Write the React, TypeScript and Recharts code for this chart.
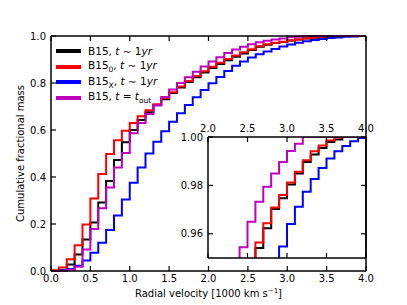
import { LineChart, Line, XAxis, YAxis, Legend } from 'recharts';

// bin edges [1000 km/s]
const VELOCITY = [
  0.0, 0.1, 0.2, 0.3, 0.4, 0.5, 0.6, 0.7, 0.8, 0.9,
  1.0, 1.1, 1.2, 1.3, 1.4, 1.5, 1.6, 1.7, 1.8, 1.9,
  2.0, 2.1, 2.2, 2.3, 2.4, 2.5, 2.6, 2.7, 2.8, 2.9,
  3.0, 3.1, 3.2, 3.3, 3.4, 3.5, 3.6, 3.7, 3.8, 3.9, 4.0,
];

// cumulative fractional mass, level of each bin starting at the edge above
const B15 = [
  0.0, 0.004, 0.028, 0.07, 0.134, 0.206, 0.291, 0.383, 0.472, 0.548,
  0.6, 0.643, 0.676, 0.705, 0.731, 0.757, 0.781, 0.804, 0.825, 0.845,
  0.864, 0.881, 0.897, 0.912, 0.926, 0.94, 0.9541, 0.9623, 0.9702, 0.9747,
  0.9804, 0.9849, 0.9897, 0.9928, 0.9955, 0.9979, 0.999, 1.0, 1.0, 1.0, 1.0,
];
const B15_0 = [
  0.003, 0.015, 0.05, 0.11, 0.198, 0.308, 0.413, 0.498, 0.556, 0.597,
  0.63, 0.658, 0.684, 0.71, 0.736, 0.761, 0.785, 0.808, 0.83, 0.85,
  0.869, 0.886, 0.902, 0.917, 0.931, 0.944, 0.9564, 0.9644, 0.9709, 0.976,
  0.9812, 0.9856, 0.9904, 0.9941, 0.9965, 0.9986, 0.9998, 1.0, 1.0, 1.0, 1.0,
];
const B15_X = [
  0.0, 0.002, 0.008, 0.022, 0.045, 0.078, 0.12, 0.175, 0.236, 0.304,
  0.376, 0.44, 0.5, 0.55, 0.595, 0.635, 0.671, 0.706, 0.739, 0.77,
  0.799, 0.826, 0.851, 0.873, 0.892, 0.908, 0.922, 0.934, 0.945, 0.9548,
  0.964, 0.9712, 0.9774, 0.9826, 0.9872, 0.9911, 0.9941, 0.9963, 0.9982, 0.9996, 1.0,
];
const B15_OUT = [
  0.0, 0.001, 0.006, 0.018, 0.092, 0.179, 0.267, 0.355, 0.44, 0.502,
  0.586, 0.63, 0.668, 0.705, 0.74, 0.772, 0.8, 0.825, 0.848, 0.87,
  0.891, 0.91, 0.928, 0.943, 0.9544, 0.965, 0.9732, 0.9794, 0.9849, 0.9897,
  0.9942, 0.9972, 1.0, 1.0, 1.0, 1.0, 1.0, 1.0, 1.0, 1.0, 1.0,
];

const X_TICKS = [0, 0.5, 1, 1.5, 2, 2.5, 3, 3.5, 4];
const Y_TICKS = [0, 0.2, 0.4, 0.6, 0.8, 1];
const INSET_X_TICKS = [2, 2.5, 3, 3.5, 4];
const INSET_Y_TICKS = [0.96, 0.98, 1.0];

const rows = VELOCITY.map((v, i) => ({
  v,
  b15: B15[i],
  b15_0: B15_0[i],
  b15_x: B15_X[i],
  b15_out: B15_OUT[i],
}));

const FONT = '"DejaVu Sans", sans-serif';
const TL = 5;
const axisLine = { stroke: '#000', strokeWidth: 1.5 };

const SERIES = [
  { key: 'b15', color: '#000000', label: <>B15, <i>t</i> ∼ 1<i>yr</i></> },
  { key: 'b15_0', color: '#ff0000', label: <>B15<sub style={{ fontSize: 7.5 }}>0</sub>, <i>t</i> ∼ 1<i>yr</i></> },
  { key: 'b15_x', color: '#0000ff', label: <>B15<sub style={{ fontSize: 7.5 }}>X</sub>, <i>t</i> ∼ 1<i>yr</i></> },
  { key: 'b15_out', color: '#bf00bf', label: <>B15, <i>t</i> = <i>t</i><sub style={{ fontSize: 7.5 }}>out</sub></> },
];

const bottomTick = (digits: number, showLabel: boolean) => (p: any) => (
  <g>
    <line x1={p.x} x2={p.x} y1={p.y} y2={p.y - TL} stroke="#000" strokeWidth={1.2} />
    {showLabel && (
      <text x={p.x} y={p.y + 11} textAnchor="middle" fontSize={10} fontFamily={FONT} fill="#000">
        {Number(p.payload.value).toFixed(digits)}
      </text>
    )}
  </g>
);

const topTick = (digits: number, showLabel: boolean) => (p: any) => (
  <g>
    <line x1={p.x} x2={p.x} y1={p.y} y2={p.y + TL} stroke="#000" strokeWidth={1.2} />
    {showLabel && (
      <text x={p.x} y={p.y - 5} textAnchor="middle" fontSize={10} fontFamily={FONT} fill="#000">
        {Number(p.payload.value).toFixed(digits)}
      </text>
    )}
  </g>
);

const leftTick = (digits: number) => (p: any) => (
  <g>
    <line x1={p.x} x2={p.x + TL} y1={p.y} y2={p.y} stroke="#000" strokeWidth={1.2} />
    <text x={p.x - 5} y={p.y + 3.6} textAnchor="end" fontSize={10} fontFamily={FONT} fill="#000">
      {Number(p.payload.value).toFixed(digits)}
    </text>
  </g>
);

const rightTick = (p: any) => (
  <line x1={p.x} x2={p.x - TL} y1={p.y} y2={p.y} stroke="#000" strokeWidth={1.2} />
);

const XLabel = ({ viewBox }: any) => (
  <text x={viewBox.x + viewBox.width / 2} y={viewBox.y + 26} textAnchor="middle" fontSize={10} fontFamily={FONT} fill="#000">
    Radial velocity [1000 km s<tspan dy={-4} fontSize={7}>−1</tspan><tspan dy={4}>]</tspan>
  </text>
);

const YLabel = ({ viewBox }: any) => {
  const cx = viewBox.x + 24;
  const cy = viewBox.y + viewBox.height / 2;
  return (
    <text x={cx} y={cy} transform={`rotate(-90 ${cx} ${cy})`} textAnchor="middle" fontSize={10} fontFamily={FONT} fill="#000">
      Cumulative fractional mass
    </text>
  );
};

const LegendBox = () => (
  <div style={{ fontFamily: FONT, fontSize: 10.5, color: '#000' }}>
    {SERIES.map((s) => (
      <div key={s.key} style={{ display: 'flex', alignItems: 'center', height: 15.7, whiteSpace: 'nowrap' }}>
        <span style={{ display: 'inline-block', width: 25, height: 4, background: s.color, marginRight: 7 }} />
        <span>{s.label}</span>
      </div>
    ))}
  </div>
);

export default function App() {
  const lines = SERIES.map((s) => (
    <Line
      key={s.key}
      xAxisId="b"
      yAxisId="l"
      dataKey={s.key}
      type="stepAfter"
      stroke={s.color}
      strokeWidth={2}
      dot={false}
      activeDot={false}
      isAnimationActive={false}
    />
  ));

  return (
    <div style={{ position: 'absolute', left: 0, top: 0, width: 407, height: 305, background: '#fff' }}>
      <LineChart width={407} height={305} data={rows} margin={{ top: 35, right: 40, bottom: 0, left: 0 }}>
        <XAxis xAxisId="b" dataKey="v" type="number" domain={[0, 4]} ticks={X_TICKS} interval={0}
          height={34} tickSize={0} tickMargin={0} tickLine={false} axisLine={axisLine}
          tick={bottomTick(1, true)} label={{ content: XLabel }} />
        <XAxis xAxisId="t" orientation="top" dataKey="v" type="number" domain={[0, 4]} ticks={X_TICKS} interval={0}
          height={1} tickSize={0} tickMargin={0} tickLine={false} axisLine={axisLine}
          tick={topTick(1, false)} />
        <YAxis yAxisId="l" type="number" domain={[0, 1]} ticks={Y_TICKS} interval={0}
          width={51} tickSize={0} tickMargin={0} tickLine={false} axisLine={axisLine}
          tick={leftTick(1)} label={{ content: YLabel }} />
        <YAxis yAxisId="r" orientation="right" type="number" domain={[0, 1]} ticks={Y_TICKS} interval={0}
          width={1} tickSize={0} tickMargin={0} tickLine={false} axisLine={axisLine}
          tick={rightTick} />
        <Legend layout="vertical" align="center" verticalAlign="middle"
          wrapperStyle={{ left: 56, top: 43, width: 150 }} content={LegendBox} />
        {lines}
      </LineChart>

      <div style={{ position: 'absolute', left: 178, top: 121 }}>
        <LineChart width={201} height={141} data={rows} margin={{ top: 15, right: 12, bottom: 3, left: 0 }}>
          <XAxis xAxisId="b" dataKey="v" type="number" domain={[2, 4]} allowDataOverflow ticks={INSET_X_TICKS} interval={0}
            height={1} tickSize={0} tickMargin={0} tickLine={false} axisLine={axisLine}
            tick={bottomTick(1, false)} />
          <XAxis xAxisId="t" orientation="top" dataKey="v" type="number" domain={[2, 4]} allowDataOverflow ticks={INSET_X_TICKS} interval={0}
            height={1} tickSize={0} tickMargin={0} tickLine={false} axisLine={axisLine}
            tick={topTick(1, true)} />
          <YAxis yAxisId="l" type="number" domain={[0.95, 1]} allowDataOverflow ticks={INSET_Y_TICKS} interval={0}
            width={30} tickSize={0} tickMargin={0} tickLine={false} axisLine={axisLine}
            tick={leftTick(2)} />
          <YAxis yAxisId="r" orientation="right" type="number" domain={[0.95, 1]} allowDataOverflow ticks={INSET_Y_TICKS} interval={0}
            width={1} tickSize={0} tickMargin={0} tickLine={false} axisLine={axisLine}
            tick={rightTick} />
          {lines}
        </LineChart>
      </div>
    </div>
  );
}
